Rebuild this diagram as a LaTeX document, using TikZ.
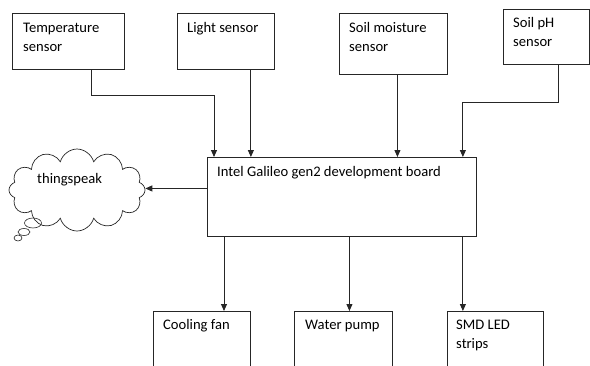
\documentclass[tikz,border=0pt]{standalone}
\usepackage{fontspec}
\setmainfont{Carlito}
\usetikzlibrary{arrows.meta,positioning,shapes.symbols,shapes.geometric}

\begin{document}
\begin{tikzpicture}[
  x=1pt, y=-1pt,
  >={Triangle[length=7pt,width=6pt]},
  every node/.style={font=\fontsize{14.6}{19}\selectfont},
  box/.style={draw=black!85, line width=0.9pt, anchor=north west, inner sep=0pt},
  lbl/.style={anchor=base west, inner sep=0pt, align=left},
  link/.style={draw=black!85, line width=0.9pt, ->},
  bubble/.style={draw=black!85, line width=0.6pt, ellipse, inner sep=0pt}
]
\clip (0,0) rectangle (590,365);
\node[box, minimum width=112, minimum height=56] (temp) at (12,13) {};
\node[box, minimum width=97, minimum height=56] (light) at (177,13) {};
\node[box, minimum width=108, minimum height=61] (soil) at (339,13) {};
\node[box, minimum width=86, minimum height=55] (ph) at (503,9) {};
\node[box, minimum width=269, minimum height=79] (board) at (207,157) {};
\node[box, minimum width=97, minimum height=60] (fan) at (153,311) {};
\node[box, minimum width=98, minimum height=60] (pump) at (294,311) {};
\node[box, minimum width=96, minimum height=60] (smd) at (447,311) {};
\node[cloud, draw=black!85, line width=0.7pt, cloud puffs=12, aspect=1.8, minimum width=136, minimum height=82, inner sep=0pt] (cloud) at (77,190) {};
\node[bubble, minimum width=17, minimum height=10] (bub1) at (33,223) {};
\node[bubble, minimum width=12, minimum height=7] (bub2) at (24,232) {};
\node[bubble, minimum width=8, minimum height=6] (bub3) at (18,238) {};

\node[lbl] (temp-l) at ([shift={(11,38.5)}]temp.north west) {Temperature\\sensor};
\node[lbl] (light-l) at ([shift={(10,19)}]light.north west) {Light sensor};
\node[lbl] (soil-l) at ([shift={(10,38)}]soil.north west) {Soil moisture\\sensor};
\node[lbl] (ph-l) at ([shift={(10,37.5)}]ph.north west) {Soil pH\\sensor};
\node[lbl] (board-l) at ([shift={(10,19)}]board.north west) {Intel Galileo gen2 development board};
\node[lbl] (fan-l) at ([shift={(10,18)}]fan.north west) {Cooling fan};
\node[lbl] (pump-l) at ([shift={(11,18)}]pump.north west) {Water pump};
\node[lbl] (smd-l) at ([shift={(9,37)}]smd.north west) {SMD LED\\strips};
\node[lbl] (cloud-l) at (37,183) {thingspeak};

\draw[link] ([shift={(23,0)}]temp.south) -- ++(0,26) -| ([shift={(7,0)}]board.north west);
\draw[link] ([shift={(-24,0)}]light.south east) coordinate (l) -- (l |- board.north);
\draw[link] ([shift={(4,0)}]soil.south) coordinate (s) -- (s |- board.north);
\draw[link] ([shift={(12,0)}]ph.south) -- ++(0,38) -| ([shift={(-14,0)}]board.north east);
\draw[link] ([shift={(0,-8.5)}]board.west) coordinate (c) -- (c -| cloud.east);
\draw[link] ([shift={(17,0)}]board.south west) coordinate (f) -- (f |- fan.north);
\draw[link] ([shift={(7.5,0)}]board.south) coordinate (p) -- (p |- pump.north);
\draw[link] ([shift={(-14,0)}]board.south east) coordinate (m) -- (m |- smd.north);
\end{tikzpicture}
\end{document}
